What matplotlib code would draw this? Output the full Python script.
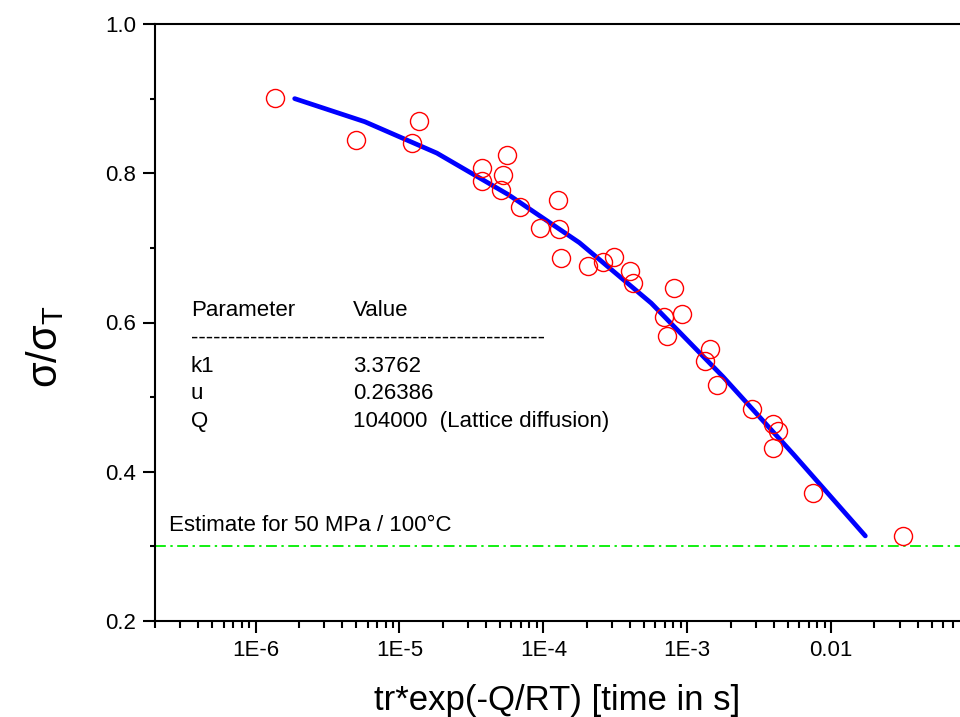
"""Normalised stress vs temperature-compensated rupture time, with fitted curve."""
import matplotlib
matplotlib.use("Agg")
import matplotlib.pyplot as plt
from matplotlib.ticker import FixedLocator, LogLocator, NullFormatter

plt.rcParams["font.family"] = ["Liberation Sans", "DejaVu Sans"]
plt.rcParams["mathtext.fontset"] = "custom"
plt.rcParams["mathtext.rm"] = "Liberation Sans"

# measured points (red circles)
time_exp = [1.37e-6, 5.02e-6, 1.37e-5, 1.22e-5, 5.62e-5, 3.77e-5, 5.26e-5, 3.77e-5,
            5.09e-5, 6.92e-5, 1.27e-4, 9.53e-5, 1.28e-4, 1.33e-4, 2.04e-4, 2.61e-4,
            3.10e-4, 4.01e-4, 4.22e-4, 8.04e-4, 6.92e-4, 9.22e-4, 7.21e-4, 1.43e-3,
            1.32e-3, 1.61e-3, 2.82e-3, 3.93e-3, 4.26e-3, 3.95e-3, 7.53e-3, 3.16e-2]
stress_ratio = [0.901, 0.845, 0.870, 0.840, 0.824, 0.807, 0.798, 0.789,
                0.778, 0.755, 0.764, 0.727, 0.725, 0.687, 0.676, 0.681,
                0.688, 0.669, 0.653, 0.646, 0.608, 0.611, 0.582, 0.565,
                0.548, 0.516, 0.484, 0.464, 0.454, 0.432, 0.371, 0.314]

# fitted curve (blue line)
fit_time = [1.87e-6, 5.75e-6, 1.82e-5, 5.75e-5, 1.78e-4, 5.62e-4, 1.78e-3, 5.50e-3, 1.73e-2]
fit_ratio = [0.900, 0.869, 0.827, 0.771, 0.707, 0.626, 0.527, 0.423, 0.314]

estimate_ratio = 0.3

xtick_values = [1e-6, 1e-5, 1e-4, 1e-3, 1e-2]
xtick_labels = ["1E-6", "1E-5", "1E-4", "1E-3", "0.01"]
ytick_values = [0.2, 0.4, 0.6, 0.8, 1.0]
ytick_labels = ["0.2", "0.4", "0.6", "0.8", "1.0"]

param_names = ["k1", "u", "Q"]
param_values = ["3.3762", "0.26386", "104000  (Lattice diffusion)"]

fig = plt.figure(figsize=(9.6, 7.17), dpi=100)
ax = fig.add_axes([155 / 960, 96 / 717, 805 / 960, 597 / 717])

ax.axhline(estimate_ratio, color="#00ee00", lw=1.3, dashes=[6, 2.5, 1.3, 2.5], zorder=1)
ax.plot(fit_time, fit_ratio, color="#0000ff", lw=3.4, solid_capstyle="round", zorder=2)
ax.plot(time_exp, stress_ratio, "o", ms=13, mfc="none", mec="#ff0000", mew=1.0, zorder=3)

ax.set_xscale("log")
ax.set_xlim(2e-7, 0.0787)
ax.set_ylim(0.2, 1.0)

ax.xaxis.set_major_locator(FixedLocator(xtick_values))
ax.set_xticklabels(xtick_labels)
ax.xaxis.set_minor_locator(LogLocator(base=10, subs=range(2, 10), numticks=20))
ax.xaxis.set_minor_formatter(NullFormatter())
ax.set_yticks(ytick_values)
ax.set_yticklabels(ytick_labels)
ax.set_yticks([0.3, 0.5, 0.7, 0.9], minor=True)

ax.tick_params(which="major", direction="out", length=8.5, width=1.5, labelsize=16, pad=5)
ax.tick_params(axis="x", which="minor", direction="out", length=5, width=1.5)
ax.tick_params(axis="y", which="minor", direction="out", length=3.6, width=1.5)
ax.tick_params(top=False, right=False, which="both")
for side in ["left", "bottom", "top"]:
    ax.spines[side].set_linewidth(1.5)
ax.spines["right"].set_visible(False)

ax.set_xlabel("tr*exp(-Q/RT) [time in s]", fontsize=25, labelpad=17)
ax.set_ylabel(r"σ/σ$_{\mathrm{T}}$", fontsize=30)
ax.yaxis.set_label_coords(-0.11, 0.46)

# parameter table
ax.text(0.0443, 0.5114, "Parameter", transform=ax.transAxes, fontsize=16)
ax.text(0.246, 0.5114, "Value", transform=ax.transAxes, fontsize=16)
ax.text(0.0443, 0.464, "-" * 48, transform=ax.transAxes, fontsize=16)
for i, (name, value) in enumerate(zip(param_names, param_values)):
    y = 0.4166 - i * 0.0455
    ax.text(0.0443, y, name, transform=ax.transAxes, fontsize=16)
    ax.text(0.246, y, value, transform=ax.transAxes, fontsize=16)

ax.text(0.0178, 0.1513, "Estimate for 50 MPa / 100°C", transform=ax.transAxes, fontsize=16)

fig.savefig("out.png", dpi=100)
